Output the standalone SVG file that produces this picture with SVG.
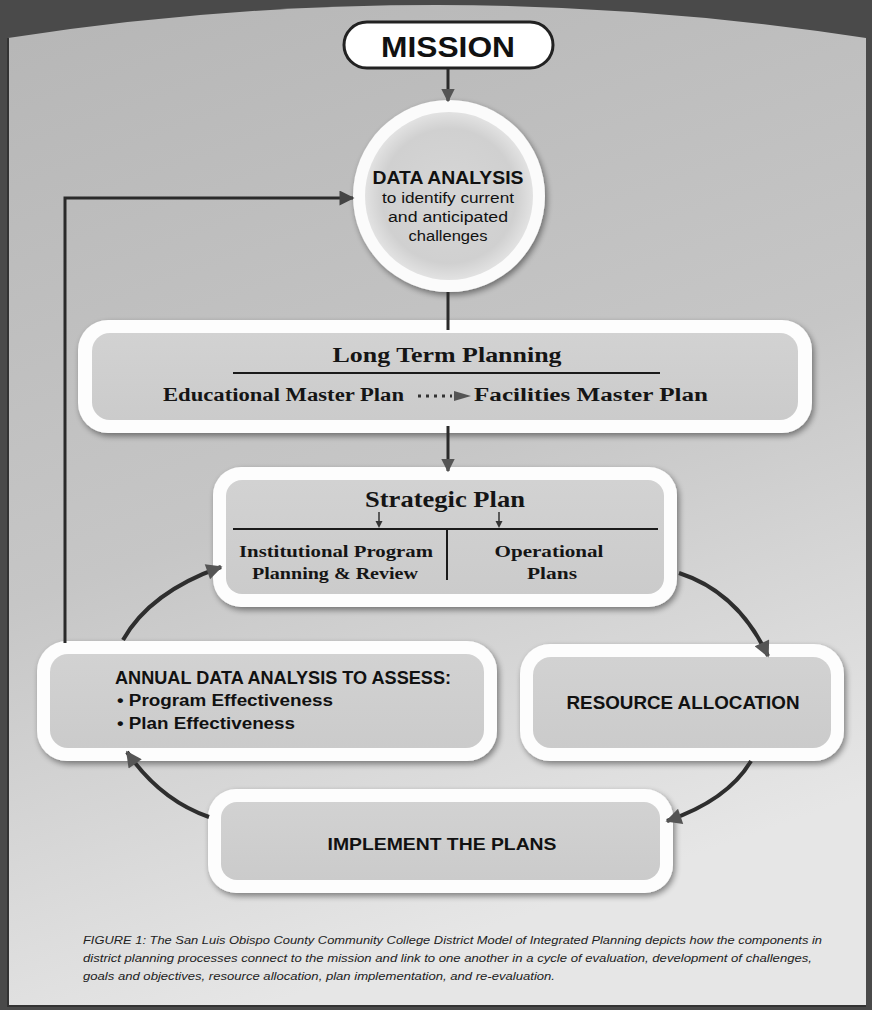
<svg xmlns="http://www.w3.org/2000/svg" width="872" height="1010" viewBox="0 0 872 1010">
<defs>
<linearGradient id="bg" x1="0" y1="0" x2="0.3" y2="1">
<stop offset="0" stop-color="#b6b6b6"/>
<stop offset="0.55" stop-color="#c6c6c6"/>
<stop offset="1" stop-color="#e6e6e6"/>
</linearGradient>
<linearGradient id="boxfill" x1="0" y1="0" x2="0" y2="1">
<stop offset="0" stop-color="#d2d2d2"/>
<stop offset="1" stop-color="#cbcbcb"/>
</linearGradient>
<radialGradient id="circfill" cx="0.5" cy="0.5" r="0.5">
<stop offset="0" stop-color="#d6d6d6"/>
<stop offset="0.8" stop-color="#d0d0d0"/>
<stop offset="1" stop-color="#e2e2e2"/>
</radialGradient>
<filter id="sh" x="-10%" y="-10%" width="120%" height="130%">
<feGaussianBlur in="SourceAlpha" stdDeviation="3"/>
<feOffset dx="2" dy="3" result="b"/>
<feComponentTransfer><feFuncA type="linear" slope="0.45"/></feComponentTransfer>
<feMerge><feMergeNode/><feMergeNode in="SourceGraphic"/></feMerge>
</filter>
<marker id="ah" viewBox="0 0 10 10" refX="9" refY="5" markerWidth="4.5" markerHeight="4.5" orient="auto" markerUnits="strokeWidth">
<path d="M0,0 L10,5 L0,10 z" fill="#555"/>
</marker>
<marker id="ahs" viewBox="0 0 10 10" refX="9" refY="5" markerWidth="4.6" markerHeight="4" orient="auto" markerUnits="strokeWidth">
<path d="M0,0 L10,5 L0,10 z" fill="#555"/>
</marker>
<marker id="ahc" viewBox="0 0 10 10" refX="9" refY="5" markerWidth="6" markerHeight="5" orient="auto" markerUnits="strokeWidth">
<path d="M0,0 L10,5 L0,10 z" fill="#444"/>
</marker>
</defs>
<style>
.outer{fill:#fdfdfd}
.inner{fill:url(#boxfill)}
.sans{font-family:"Liberation Sans",Arial,sans-serif;font-weight:bold;fill:#111}
.serif{font-family:"Liberation Serif","Times New Roman",serif;font-weight:bold;fill:#151515}
.cap{font-family:"Liberation Sans",Arial,sans-serif;font-style:italic;font-size:11.5px;fill:#222}
.conn{fill:none;stroke:#2a2a2a;stroke-width:3}
.cyc{fill:none;stroke:#2e2e2e;stroke-width:4}
</style>

<!-- background -->
<rect x="0" y="0" width="872" height="1010" fill="#4a4a4a"/>
<path d="M8,38 Q436,-28 866,38 L866,1006 L8,1006 Z" fill="url(#bg)"/>
<path d="M8,38 L8,1006 L866,1006" fill="none" stroke="#333" stroke-width="2"/>

<!-- Mission -->
<g id="mission">
<rect x="344" y="22" width="209" height="46" rx="23" fill="#fff" stroke="#222" stroke-width="3"/>
<text class="sans" x="448" y="57" font-size="29" text-anchor="middle" textLength="134" lengthAdjust="spacingAndGlyphs">MISSION</text>
</g>

<!-- Data analysis circle -->
<g id="data-analysis">
<circle cx="449" cy="196" r="96" fill="#fbfbfb" filter="url(#sh)"/>
<circle cx="449" cy="196" r="84" fill="url(#circfill)"/>
<text class="sans" x="448" y="184" font-size="18" text-anchor="middle" textLength="151" lengthAdjust="spacingAndGlyphs">DATA ANALYSIS</text>
<text class="sans" x="448" y="203" font-size="14" text-anchor="middle" textLength="132" lengthAdjust="spacingAndGlyphs" style="font-weight:normal">to identify current</text>
<text class="sans" x="448" y="222" font-size="14" text-anchor="middle" textLength="120" lengthAdjust="spacingAndGlyphs" style="font-weight:normal">and anticipated</text>
<text class="sans" x="448" y="241" font-size="14" text-anchor="middle" textLength="79" lengthAdjust="spacingAndGlyphs" style="font-weight:normal">challenges</text>
</g>

<!-- Long term planning -->
<g id="long-term">
<rect class="outer" x="78" y="320" width="734" height="113" rx="30" filter="url(#sh)"/>
<rect class="inner" x="92" y="333" width="706" height="87" rx="18"/>
<text class="serif" x="447" y="362" font-size="22" text-anchor="middle" textLength="229" lengthAdjust="spacingAndGlyphs">Long Term Planning</text>
<line x1="233" y1="373" x2="660" y2="373" stroke="#1a1a1a" stroke-width="2"/>
<text class="serif" x="163" y="401" font-size="18" textLength="241" lengthAdjust="spacingAndGlyphs">Educational Master Plan</text>
<line x1="418" y1="396" x2="452" y2="396" stroke="#333" stroke-width="3" stroke-dasharray="3,5"/>
<path d="M454,391 L471,396 L454,401 Z" fill="#555"/>
<text class="serif" x="474" y="401" font-size="18" textLength="234" lengthAdjust="spacingAndGlyphs">Facilities Master Plan</text>
</g>

<!-- Strategic plan -->
<g id="strategic-plan">
<rect class="outer" x="213" y="467" width="464" height="140" rx="28" filter="url(#sh)"/>
<rect class="inner" x="226" y="480" width="438" height="114" rx="16"/>
<text class="serif" x="445" y="507" font-size="23" text-anchor="middle" textLength="160" lengthAdjust="spacingAndGlyphs">Strategic Plan</text>
<line x1="233" y1="529" x2="658" y2="529" stroke="#1a1a1a" stroke-width="2"/>
<line x1="447" y1="529" x2="447" y2="580" stroke="#1a1a1a" stroke-width="2"/>
<line x1="379" y1="512" x2="379" y2="526" stroke="#333" stroke-width="1.5"/>
<path d="M375.5,521 L379,528 L382.5,521 Z" fill="#333"/>
<line x1="499" y1="512" x2="499" y2="526" stroke="#333" stroke-width="1.5"/>
<path d="M495.5,521 L499,528 L502.5,521 Z" fill="#333"/>
<text class="serif" x="336" y="557" font-size="17" text-anchor="middle" textLength="194" lengthAdjust="spacingAndGlyphs">Institutional Program</text>
<text class="serif" x="335" y="579" font-size="17" text-anchor="middle" textLength="166" lengthAdjust="spacingAndGlyphs">Planning &amp; Review</text>
<text class="serif" x="549" y="557" font-size="17" text-anchor="middle" textLength="109" lengthAdjust="spacingAndGlyphs">Operational</text>
<text class="serif" x="552" y="579" font-size="17" text-anchor="middle" textLength="50" lengthAdjust="spacingAndGlyphs">Plans</text>
</g>

<!-- Annual data analysis -->
<g id="annual">
<rect class="outer" x="37" y="641" width="460" height="120" rx="30" filter="url(#sh)"/>
<rect class="inner" x="50" y="654" width="434" height="94" rx="18"/>
<text class="sans" x="115" y="684" font-size="18" textLength="336" lengthAdjust="spacingAndGlyphs">ANNUAL DATA ANALYSIS TO ASSESS:</text>
<text class="sans" x="117" y="706" font-size="16" textLength="216" lengthAdjust="spacingAndGlyphs" style="font-weight:600">• Program Effectiveness</text>
<text class="sans" x="117" y="729" font-size="16" textLength="178" lengthAdjust="spacingAndGlyphs" style="font-weight:600">• Plan Effectiveness</text>
</g>

<!-- Resource allocation -->
<g id="resource">
<rect class="outer" x="520" y="644" width="324" height="117" rx="30" filter="url(#sh)"/>
<rect class="inner" x="533" y="657" width="298" height="91" rx="18"/>
<text class="sans" x="683" y="709" font-size="18" text-anchor="middle" textLength="233" lengthAdjust="spacingAndGlyphs">RESOURCE ALLOCATION</text>
</g>

<!-- Implement the plans -->
<g id="implement">
<rect class="outer" x="208" y="789" width="465" height="104" rx="28" filter="url(#sh)"/>
<rect class="inner" x="221" y="802" width="439" height="78" rx="16"/>
<text class="sans" x="442" y="850" font-size="17" text-anchor="middle" textLength="229" lengthAdjust="spacingAndGlyphs">IMPLEMENT THE PLANS</text>
</g>

<!-- connectors -->
<g id="connectors">
<line class="conn" x1="448" y1="69" x2="448" y2="101" marker-end="url(#ah)"/>
<line class="conn" x1="448" y1="292" x2="448" y2="330"/>
<line class="conn" x1="448" y1="426" x2="448" y2="471" marker-end="url(#ah)"/>
<polyline class="conn" points="65,643 65,198 353,198" stroke="#1e1e1e" marker-end="url(#ahc)"/>
<path class="cyc" d="M123,640 Q150,592 221,567" marker-end="url(#ahs)"/>
<path class="cyc" d="M679,573 Q738,592 768,656" marker-end="url(#ahs)"/>
<path class="cyc" d="M751,761 Q728,800 667,821" marker-end="url(#ahs)"/>
<path class="cyc" d="M209,817 Q160,800 127,752" marker-end="url(#ahs)"/>
</g>

<!-- caption -->
<g id="caption">
<text class="cap" x="83" y="944" textLength="739" lengthAdjust="spacingAndGlyphs">FIGURE 1: The San Luis Obispo County Community College District Model of Integrated Planning depicts how the components in</text>
<text class="cap" x="83" y="962" textLength="729" lengthAdjust="spacingAndGlyphs">district planning processes connect to the mission and link to one another in a cycle of evaluation, development of challenges,</text>
<text class="cap" x="83" y="980" textLength="472" lengthAdjust="spacingAndGlyphs">goals and objectives, resource allocation, plan implementation, and re-evaluation.</text>
</g>
</svg>
